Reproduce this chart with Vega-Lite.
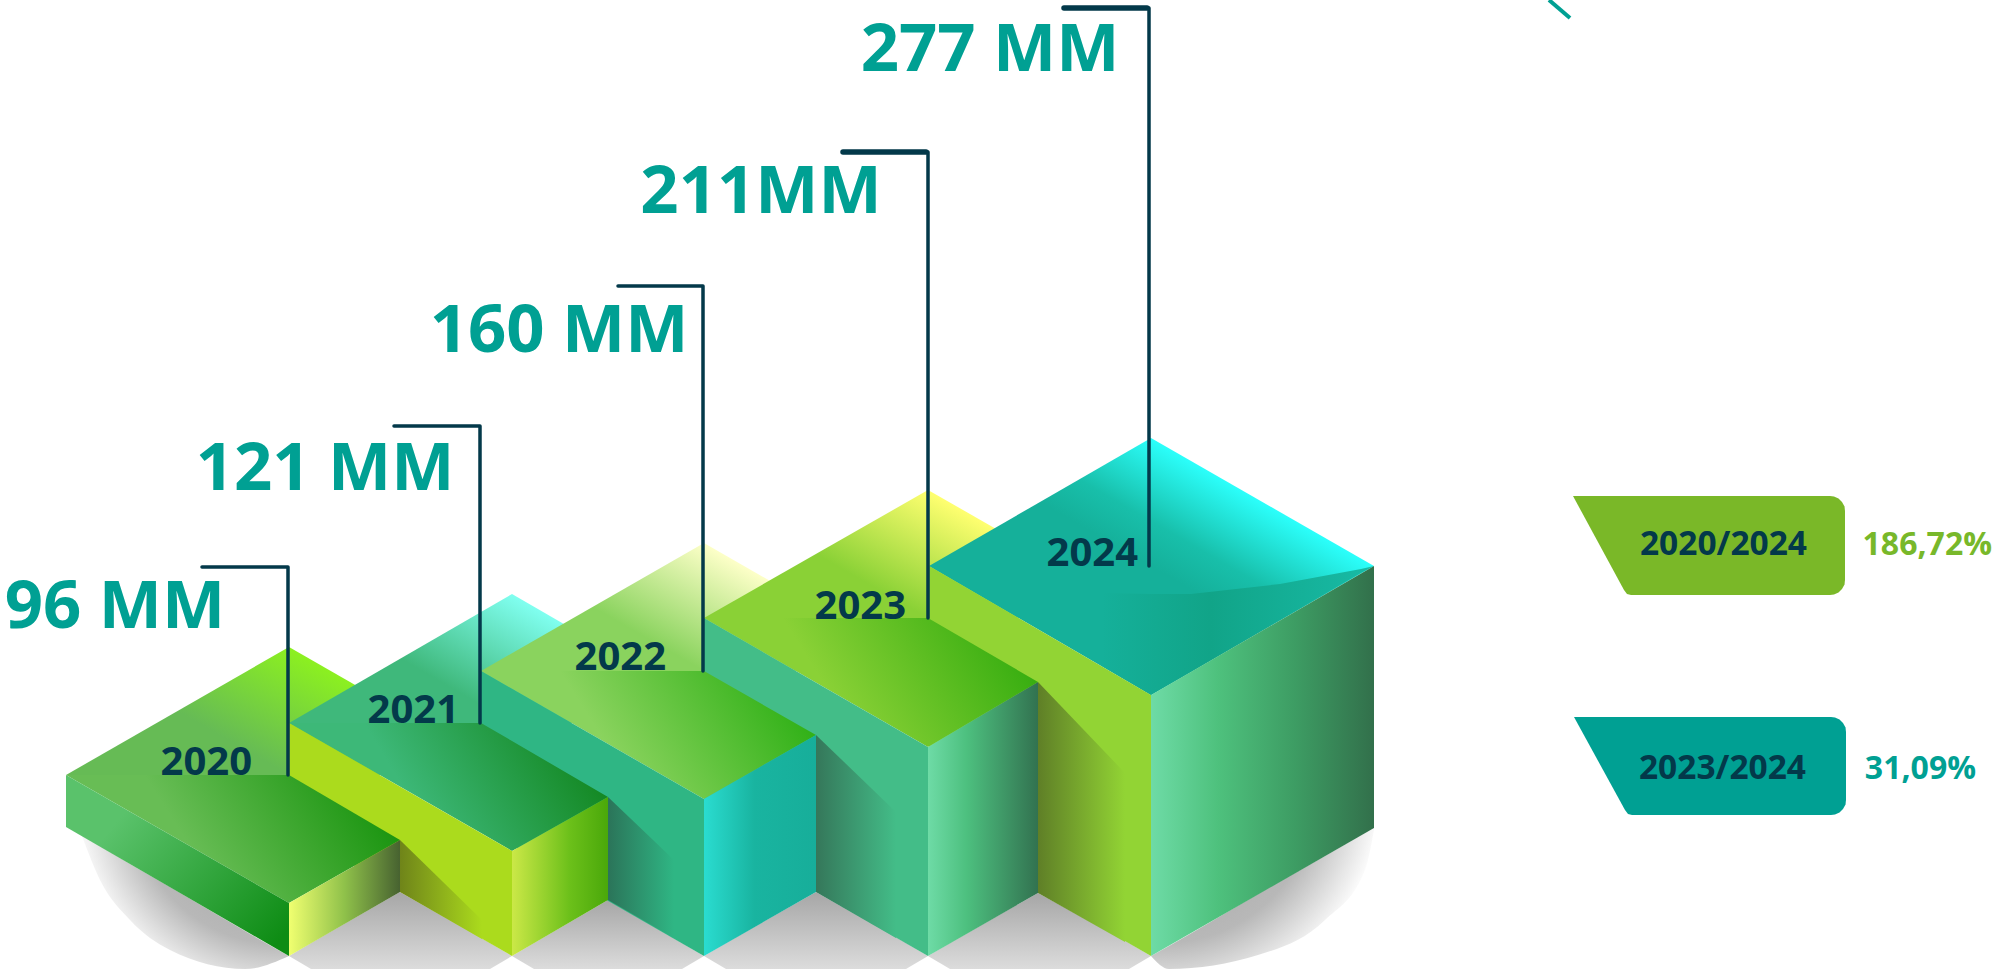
{
"$schema":"https://vega.github.io/schema/vega-lite/v6.json",
"width":1996,"height":969,
"autosize":{"type":"none"},
"padding":0,
"background":"#ffffff",
"view":{"stroke":null},
"config":{"text":{"font":"Open Sans","fontWeight":"bold"}},
"datasets":{
"faces":[
{"face":"shadowL","x":82,"y":836,"y2":836},{"face":"shadowL","x":100,"y":846,"y2":880},{"face":"shadowL","x":130,"y":864,"y2":920},{"face":"shadowL","x":170,"y":887,"y2":950},{"face":"shadowL","x":245,"y":931,"y2":969},{"face":"shadowL","x":289,"y":956,"y2":956},
{"face":"shadowA","x":289,"y":956,"y2":956},{"face":"shadowA","x":311,"y":943,"y2":969},{"face":"shadowA","x":400,"y":892,"y2":969},{"face":"shadowA","x":490,"y":943,"y2":969},{"face":"shadowA","x":512,"y":956,"y2":956},
{"face":"shadowB","x":512,"y":956,"y2":956},{"face":"shadowB","x":534,"y":943,"y2":969},{"face":"shadowB","x":608,"y":900,"y2":969},{"face":"shadowB","x":682,"y":943,"y2":969},{"face":"shadowB","x":704,"y":956,"y2":956},
{"face":"shadowC","x":704,"y":956,"y2":956},{"face":"shadowC","x":726,"y":943,"y2":969},{"face":"shadowC","x":816,"y":892,"y2":969},{"face":"shadowC","x":906,"y":943,"y2":969},{"face":"shadowC","x":928,"y":956,"y2":956},
{"face":"shadowD","x":928,"y":956,"y2":956},{"face":"shadowD","x":950,"y":943,"y2":969},{"face":"shadowD","x":1038,"y":893,"y2":969},{"face":"shadowD","x":1129,"y":943,"y2":969},{"face":"shadowD","x":1151,"y":956,"y2":956},
{"face":"shadowR","x":1151,"y":956,"y2":956},{"face":"shadowR","x":1169,"y":946,"y2":969},{"face":"shadowR","x":1258,"y":894,"y2":955},{"face":"shadowR","x":1325,"y":856,"y2":920},{"face":"shadowR","x":1365,"y":833,"y2":870},{"face":"shadowR","x":1374,"y":828,"y2":830},
{"face":"roof2020","x":66,"y":775,"y2":775},{"face":"roof2020","x":289,"y":647,"y2":775},{"face":"roof2020","x":512,"y":775,"y2":775},
{"face":"roof2021","x":289,"y":723,"y2":723},{"face":"roof2021","x":512,"y":594,"y2":723},{"face":"roof2021","x":735,"y":723,"y2":723},
{"face":"roof2022","x":481,"y":671,"y2":671},{"face":"roof2022","x":704,"y":543,"y2":671},{"face":"roof2022","x":927,"y":671,"y2":671},
{"face":"roof2023","x":704,"y":618,"y2":618},{"face":"roof2023","x":928,"y":490,"y2":618},{"face":"roof2023","x":1152,"y":618,"y2":618},
{"face":"roof2024","x":929,"y":566,"y2":566},{"face":"roof2024","x":1151,"y":438,"y2":695},{"face":"roof2024","x":1374,"y":566,"y2":566},
{"face":"arc2024","x":1102,"y":593,"y2":666},{"face":"arc2024","x":1151,"y":594,"y2":695},{"face":"arc2024","x":1191,"y":594,"y2":672},{"face":"arc2024","x":1280,"y":584,"y2":620},{"face":"arc2024","x":1361,"y":569,"y2":573},{"face":"arc2024","x":1374,"y":566,"y2":566},
{"face":"left2024","x":929,"y":566,"y2":828},{"face":"left2024","x":1151,"y":695,"y2":956},
{"face":"shade2024","x":1038,"y":682,"y2":893},{"face":"shade2024","x":1125,"y":773,"y2":942},
{"face":"right2024","x":1151,"y":695,"y2":956},{"face":"right2024","x":1374,"y":566,"y2":828},
{"face":"lower2023","x":704,"y":618,"y2":618},{"face":"lower2023","x":928,"y":618,"y2":747},{"face":"lower2023","x":1038,"y":682,"y2":682},
{"face":"right2023","x":928,"y":747,"y2":956},{"face":"right2023","x":1038,"y":682,"y2":893},
{"face":"left2023","x":704,"y":618,"y2":827},{"face":"left2023","x":928,"y":747,"y2":956},
{"face":"shade2023","x":816,"y":735,"y2":892},{"face":"shade2023","x":896,"y":812,"y2":938},
{"face":"lower2022","x":481,"y":671,"y2":671},{"face":"lower2022","x":704,"y":671,"y2":799},{"face":"lower2022","x":816,"y":735,"y2":735},
{"face":"right2022","x":704,"y":799,"y2":956},{"face":"right2022","x":816,"y":735,"y2":892},
{"face":"left2022","x":481,"y":671,"y2":828},{"face":"left2022","x":704,"y":799,"y2":956},
{"face":"shade2022","x":608,"y":797,"y2":900},{"face":"shade2022","x":674,"y":860,"y2":938},
{"face":"lower2021","x":289,"y":723,"y2":723},{"face":"lower2021","x":481,"y":723,"y2":833},{"face":"lower2021","x":512,"y":741,"y2":851},{"face":"lower2021","x":608,"y":797,"y2":797},
{"face":"right2021","x":512,"y":851,"y2":956},{"face":"right2021","x":608,"y":797,"y2":900},
{"face":"left2021","x":289,"y":723,"y2":828},{"face":"left2021","x":512,"y":851,"y2":956},
{"face":"shade2021","x":400,"y":840,"y2":892},{"face":"shade2021","x":482,"y":920,"y2":939},
{"face":"lower2020","x":66,"y":775,"y2":775},{"face":"lower2020","x":289,"y":775,"y2":903},{"face":"lower2020","x":400,"y":840,"y2":840},
{"face":"right2020","x":289,"y":903,"y2":956},{"face":"right2020","x":400,"y":840,"y2":892},
{"face":"left2020","x":66,"y":775,"y2":827},{"face":"left2020","x":289,"y":903,"y2":956},
{"face":"badgeA","x":1573,"y":496,"y2":496},{"face":"badgeA","x":1624,"y":496,"y2":590},{"face":"badgeA","x":1627,"y":496,"y2":594},{"face":"badgeA","x":1631,"y":496,"y2":595},{"face":"badgeA","x":1830,"y":496,"y2":595},{"face":"badgeA","x":1834,"y":496.5,"y2":594.5},{"face":"badgeA","x":1838.5,"y":498.5,"y2":592.5},{"face":"badgeA","x":1842,"y":502,"y2":589},{"face":"badgeA","x":1844.5,"y":506.5,"y2":584.5},{"face":"badgeA","x":1845,"y":511,"y2":580},
{"face":"badgeB","x":1574,"y":717,"y2":717},{"face":"badgeB","x":1625,"y":717,"y2":810},{"face":"badgeB","x":1628,"y":717,"y2":814},{"face":"badgeB","x":1632,"y":717,"y2":815},{"face":"badgeB","x":1831,"y":717,"y2":815},{"face":"badgeB","x":1835,"y":717.5,"y2":814.5},{"face":"badgeB","x":1839.5,"y":719.5,"y2":812.5},{"face":"badgeB","x":1843,"y":723,"y2":809},{"face":"badgeB","x":1845.5,"y":727.5,"y2":804.5},{"face":"badgeB","x":1846,"y":732,"y2":800}
],
"leaders":[
{"year":2020,"seq":1,"x":202,"y":567},{"year":2020,"seq":2,"x":288,"y":567},{"year":2020,"seq":3,"x":288,"y":775},
{"year":2021,"seq":1,"x":394,"y":426},{"year":2021,"seq":2,"x":480,"y":426},{"year":2021,"seq":3,"x":480,"y":723},
{"year":2022,"seq":1,"x":618,"y":286},{"year":2022,"seq":2,"x":703,"y":286},{"year":2022,"seq":3,"x":703,"y":671},
{"year":2023,"seq":1,"x":843,"y":152},{"year":2023,"seq":2,"x":928,"y":152},{"year":2023,"seq":3,"x":928,"y":618},
{"year":2024,"seq":1,"x":1064,"y":8},{"year":2024,"seq":2,"x":1149,"y":8},{"year":2024,"seq":3,"x":1149,"y":566}
],
"caps":[
{"year":2023,"x":843,"y":152},{"year":2023,"x":926,"y":152},
{"year":2024,"x":1064,"y":8},{"year":2024,"x":1147,"y":8}
],
"corner":[{"x":1549,"y":0},{"x":1570,"y":18}],
"values":[
{"label":"96 MM","x":115,"y":628},{"label":"121 MM","x":325,"y":490},{"label":"160 MM","x":559,"y":352},{"label":"211MM","x":761,"y":213},{"label":"277 MM","x":990,"y":71}
],
"years":[
{"label":"2020","x":252,"y":775},{"label":"2021","x":459,"y":723},{"label":"2022","x":666,"y":670},{"label":"2023","x":906,"y":619},{"label":"2024","x":1138,"y":566}
],
"badges":[{"label":"2020/2024","x":1807,"y":555},{"label":"2023/2024","x":1806,"y":779}],
"pcts":[{"label":"186,72%","x":1992,"y":555,"kind":"A"},{"label":"31,09%","x":1976,"y":779,"kind":"B"}]
},
"encoding":{
"x":{"field":"x","type":"quantitative","scale":{"domain":[0,1996],"nice":false,"zero":false},"axis":null},
"y":{"field":"y","type":"quantitative","stack":null,"scale":{"domain":[0,969],"nice":false,"zero":false,"reverse":true},"axis":null}
},
"layer":[
{"data":{"name":"faces"},"encoding":{"y2":{"field":"y2"}},"layer":[
{"transform":[{"filter":"datum.face==='shadowL'"}],"mark":{"type":"area","interpolate":"monotone","color":{"gradient":"radial","x1":0.95,"y1":0,"r1":0,"x2":0.95,"y2":0,"r2":1,"stops":[{"offset":0,"color":"#9a9a9a"},{"offset":0.7,"color":"#b8b8b8"},{"offset":1,"color":"#ffffff"}]}}},
{"transform":[{"filter":"datum.face==='shadowA'"}],"mark":{"type":"area","color":{"gradient":"linear","x1":0,"y1":0,"x2":0,"y2":1,"stops":[{"offset":0,"color":"#a6a6a6"},{"offset":1,"color":"#dcdcdc"}]}}},
{"transform":[{"filter":"datum.face==='shadowB'"}],"mark":{"type":"area","color":{"gradient":"linear","x1":0,"y1":0,"x2":0,"y2":1,"stops":[{"offset":0,"color":"#a6a6a6"},{"offset":1,"color":"#dcdcdc"}]}}},
{"transform":[{"filter":"datum.face==='shadowC'"}],"mark":{"type":"area","color":{"gradient":"linear","x1":0,"y1":0,"x2":0,"y2":1,"stops":[{"offset":0,"color":"#a6a6a6"},{"offset":1,"color":"#dcdcdc"}]}}},
{"transform":[{"filter":"datum.face==='shadowD'"}],"mark":{"type":"area","color":{"gradient":"linear","x1":0,"y1":0,"x2":0,"y2":1,"stops":[{"offset":0,"color":"#a6a6a6"},{"offset":1,"color":"#dcdcdc"}]}}},
{"transform":[{"filter":"datum.face==='shadowR'"}],"mark":{"type":"area","interpolate":"monotone","color":{"gradient":"radial","x1":0.05,"y1":0,"r1":0,"x2":0.05,"y2":0,"r2":1,"stops":[{"offset":0,"color":"#9a9a9a"},{"offset":0.7,"color":"#b8b8b8"},{"offset":1,"color":"#ffffff"}]}}},
{"transform":[{"filter":"datum.face==='roof2020'"}],"mark":{"type":"area","color":{"gradient":"linear","x1":0.35,"y1":0.7,"x2":0.75,"y2":0.5,"stops":[{"offset":0,"color":"#66bb55"},{"offset":1,"color":"#8cf020"}]}}},
{"transform":[{"filter":"datum.face==='roof2021'"}],"mark":{"type":"area","color":{"gradient":"linear","x1":0.35,"y1":0.7,"x2":0.75,"y2":0.5,"stops":[{"offset":0,"color":"#3fb87b"},{"offset":1,"color":"#80fff0"}]}}},
{"transform":[{"filter":"datum.face==='roof2022'"}],"mark":{"type":"area","color":{"gradient":"linear","x1":0.35,"y1":0.7,"x2":0.75,"y2":0.5,"stops":[{"offset":0,"color":"#8ad35e"},{"offset":1,"color":"#fdffc8"}]}}},
{"transform":[{"filter":"datum.face==='roof2023'"}],"mark":{"type":"area","color":{"gradient":"linear","x1":0.35,"y1":0.7,"x2":0.75,"y2":0.5,"stops":[{"offset":0,"color":"#8ad136"},{"offset":1,"color":"#ffff70"}]}}},
{"transform":[{"filter":"datum.face==='roof2024'"}],"mark":{"type":"area","color":{"gradient":"linear","x1":0.5,"y1":0.5,"x2":0.75,"y2":0.25,"stops":[{"offset":0,"color":"#15b09a"},{"offset":0.35,"color":"#18bfaa"},{"offset":1,"color":"#2bfffb"}]}}},
{"transform":[{"filter":"datum.face==='arc2024'"}],"mark":{"type":"area","interpolate":"linear","color":{"gradient":"linear","x1":0,"y1":0,"x2":1,"y2":0,"stops":[{"offset":0,"color":"#15b09a"},{"offset":0.4,"color":"#11a488"},{"offset":1,"color":"#18bba6"}]}}},
{"transform":[{"filter":"datum.face==='left2024'"}],"mark":{"type":"area","color":"#92d434"}},
{"transform":[{"filter":"datum.face==='shade2024'"}],"mark":{"type":"area","color":{"gradient":"linear","x1":0,"y1":0,"x2":1,"y2":0,"stops":[{"offset":0,"color":"#5f7f27"},{"offset":1,"color":"#92d434"}]}}},
{"transform":[{"filter":"datum.face==='right2024'"}],"mark":{"type":"area","color":{"gradient":"linear","x1":0,"y1":0,"x2":1,"y2":0,"stops":[{"offset":0,"color":"#6edba6"},{"offset":0.3,"color":"#4ec17d"},{"offset":0.65,"color":"#3d9c63"},{"offset":1,"color":"#32704b"}]}}},
{"transform":[{"filter":"datum.face==='lower2023'"}],"mark":{"type":"area","color":{"gradient":"linear","x1":0.38,"y1":0.6,"x2":1,"y2":0.45,"stops":[{"offset":0,"color":"#8ad136"},{"offset":1,"color":"#36ad10"}]}}},
{"transform":[{"filter":"datum.face==='right2023'"}],"mark":{"type":"area","color":{"gradient":"linear","x1":0,"y1":0,"x2":1,"y2":0,"stops":[{"offset":0,"color":"#6edba6"},{"offset":0.35,"color":"#4dc07f"},{"offset":1,"color":"#327250"}]}}},
{"transform":[{"filter":"datum.face==='left2023'"}],"mark":{"type":"area","color":"#43bd88"}},
{"transform":[{"filter":"datum.face==='shade2023'"}],"mark":{"type":"area","color":{"gradient":"linear","x1":0,"y1":0,"x2":1,"y2":0,"stops":[{"offset":0,"color":"#35775a"},{"offset":1,"color":"#43bd88"}]}}},
{"transform":[{"filter":"datum.face==='lower2022'"}],"mark":{"type":"area","color":{"gradient":"linear","x1":0.38,"y1":0.6,"x2":1,"y2":0.45,"stops":[{"offset":0,"color":"#8ad35e"},{"offset":1,"color":"#2fb016"}]}}},
{"transform":[{"filter":"datum.face==='right2022'"}],"mark":{"type":"area","color":{"gradient":"linear","x1":0,"y1":0,"x2":1,"y2":0,"stops":[{"offset":0,"color":"#2adcd0"},{"offset":0.45,"color":"#19b4a0"},{"offset":1,"color":"#17ae9a"}]}}},
{"transform":[{"filter":"datum.face==='left2022'"}],"mark":{"type":"area","color":"#2fb684"}},
{"transform":[{"filter":"datum.face==='shade2022'"}],"mark":{"type":"area","color":{"gradient":"linear","x1":0,"y1":0,"x2":1,"y2":0,"stops":[{"offset":0,"color":"#2b7459"},{"offset":1,"color":"#2fb684"}]}}},
{"transform":[{"filter":"datum.face==='lower2021'"}],"mark":{"type":"area","color":{"gradient":"linear","x1":0.38,"y1":0.6,"x2":1,"y2":0.45,"stops":[{"offset":0,"color":"#3db878"},{"offset":1,"color":"#12861f"}]}}},
{"transform":[{"filter":"datum.face==='right2021'"}],"mark":{"type":"area","color":{"gradient":"linear","x1":0,"y1":0,"x2":1,"y2":0,"stops":[{"offset":0,"color":"#cbe847"},{"offset":0.6,"color":"#6cc01a"},{"offset":1,"color":"#4aa80a"}]}}},
{"transform":[{"filter":"datum.face==='left2021'"}],"mark":{"type":"area","color":"#abdb1d"}},
{"transform":[{"filter":"datum.face==='shade2021'"}],"mark":{"type":"area","color":{"gradient":"linear","x1":0,"y1":0,"x2":1,"y2":0,"stops":[{"offset":0,"color":"#6f8419"},{"offset":1,"color":"#abdb1d"}]}}},
{"transform":[{"filter":"datum.face==='lower2020'"}],"mark":{"type":"area","color":{"gradient":"linear","x1":0.38,"y1":0.6,"x2":1,"y2":0.45,"stops":[{"offset":0,"color":"#68bd55"},{"offset":1,"color":"#19940f"}]}}},
{"transform":[{"filter":"datum.face==='right2020'"}],"mark":{"type":"area","color":{"gradient":"linear","x1":0,"y1":0,"x2":1,"y2":0,"stops":[{"offset":0,"color":"#f0ff70"},{"offset":0.5,"color":"#8fc14a"},{"offset":1,"color":"#476230"}]}}},
{"transform":[{"filter":"datum.face==='left2020'"}],"mark":{"type":"area","color":{"gradient":"linear","x1":0.2,"y1":0.3,"x2":1,"y2":0.85,"stops":[{"offset":0,"color":"#5ac26b"},{"offset":1,"color":"#0e8c14"}]}}},
{"transform":[{"filter":"datum.face==='badgeA'"}],"mark":{"type":"area","color":"#7ab828"}},
{"transform":[{"filter":"datum.face==='badgeB'"}],"mark":{"type":"area","color":"#00a093"}}
]},
{"data":{"name":"leaders"},
"mark":{"type":"line","color":"#03394a","strokeWidth":3.5,"strokeCap":"round","strokeJoin":"round"},
"encoding":{"detail":{"field":"year","type":"nominal"},"order":{"field":"seq","type":"quantitative"}}},
{"data":{"name":"caps"},
"mark":{"type":"line","color":"#03394a","strokeWidth":5.5,"strokeCap":"round"},
"encoding":{"detail":{"field":"year","type":"nominal"}}},
{"data":{"name":"corner"},
"mark":{"type":"line","color":"#00a093","strokeWidth":4},"encoding":{}},
{"data":{"name":"values"},
"mark":{"type":"text","align":"center","baseline":"alphabetic","fontSize":67,"color":"#00a093"},
"encoding":{"text":{"field":"label"}}},
{"data":{"name":"years"},
"mark":{"type":"text","align":"right","baseline":"alphabetic","fontSize":40,"color":"#03394a"},
"encoding":{"text":{"field":"label"}}},
{"data":{"name":"badges"},
"mark":{"type":"text","align":"right","baseline":"alphabetic","fontSize":33.5,"color":"#03394a"},
"encoding":{"text":{"field":"label"}}},
{"data":{"name":"pcts"},
"mark":{"type":"text","align":"right","baseline":"alphabetic","fontSize":32},
"encoding":{"text":{"field":"label"},"color":{"field":"kind","type":"nominal","legend":null,"scale":{"domain":["A","B"],"range":["#78b82a","#00a093"]}}}}
]
}
